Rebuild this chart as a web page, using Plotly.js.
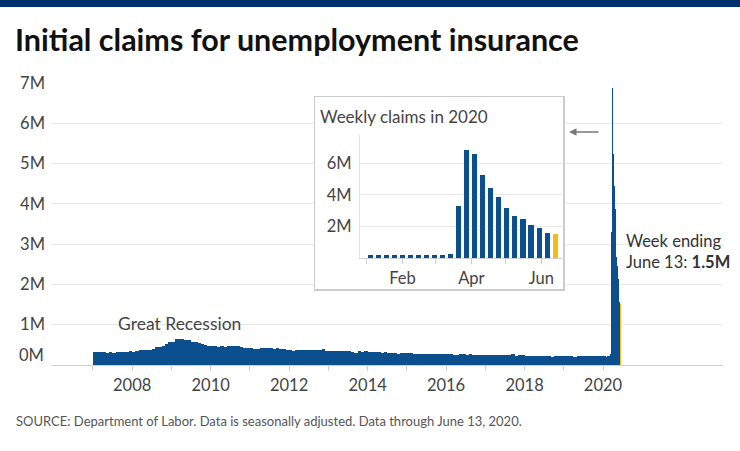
<!DOCTYPE html>
<html>
<head>
<meta charset="utf-8">
<script src="https://cdn.plot.ly/plotly-3.0.1.min.js"></script>
<style>html,body{margin:0;padding:0;background:#fff;}#chart{width:740px;height:451px;}</style>
</head>
<body>
<div id="chart"></div>
<script>
// Monthly average initial claims, thousands, Jan 2007 .. Dec 2019
const firstYear = 2007;
const monthlyClaimsK = [
  315,330,318,325,310,312,305,318,315,325,335,343, // 2007
  330,352,365,365,370,384,400,440,455,478,520,560, // 2008
  580,640,655,640,625,610,570,565,545,520,490,470, // 2009
  465,470,455,460,455,460,460,480,460,450,430,420, // 2010
  420,400,390,420,425,420,410,405,410,400,395,375, // 2011
  370,360,365,380,375,380,370,370,370,365,405,360, // 2012
  355,350,345,345,350,345,340,325,310,350,335,345, // 2013
  330,335,320,315,310,315,300,300,290,285,290,290, // 2014
  300,295,285,280,275,275,270,275,270,262,270,275, // 2015
  280,268,260,255,268,265,258,262,255,255,250,260, // 2016
  245,242,245,245,238,243,245,238,265,235,240,240, // 2017
  230,225,225,228,222,222,215,213,208,213,222,220, // 2018
  220,228,218,210,215,220,213,215,212,215,222,225  // 2019
];
// Weekly claims 2020 (week ending), millions
const weeks2020 = ['2020-01-04','2020-01-11','2020-01-18','2020-01-25','2020-02-01','2020-02-08',
  '2020-02-15','2020-02-22','2020-02-29','2020-03-07','2020-03-14','2020-03-21','2020-03-28',
  '2020-04-04','2020-04-11','2020-04-18','2020-04-25','2020-05-02','2020-05-09','2020-05-16',
  '2020-05-23','2020-05-30','2020-06-06','2020-06-13'];
const claims2020M = [0.214,0.207,0.220,0.216,0.202,0.205,0.214,0.219,0.217,0.211,0.282,3.307,6.867,
  6.615,5.237,4.442,3.867,3.176,2.687,2.446,2.123,1.897,1.566,1.508];
const mainTickYears = ['2007','2008','2009','2010','2011','2012','2013','2014','2015','2016','2017','2018','2019','2020'];
const mainYTicks = [1,2,3,4,5,6,7];
const insetYTicks = [2,4,6];
const insetMonths = ['2020-01-01','2020-02-01','2020-03-01','2020-04-01','2020-05-01','2020-06-01'];
const insetMonthLabels = ['', 'Feb', '', 'Apr', '', 'Jun'];

const BLUE = '#0b4f8e', GOLD = '#fdb913';
const DAY = 86400000;

const monthX = monthlyClaimsK.map((v, i) => {
  const y = firstYear + Math.floor(i / 12), m = (i % 12) + 1;
  return y + '-' + String(m).padStart(2, '0') + '-16';
});
const monthY = monthlyClaimsK.map(v => v * 1000);
const weekY = claims2020M.map(v => v * 1e6);
const weekColors = weeks2020.map((d, i) => i === weeks2020.length - 1 ? GOLD : BLUE);

const traces = [
  {type: 'bar', x: monthX, y: monthY, width: 31 * DAY, marker: {color: BLUE, line: {width: 0}},
   xaxis: 'x', yaxis: 'y', hoverinfo: 'skip'},
  {type: 'bar', x: weeks2020, y: weekY, width: 7 * DAY, marker: {color: weekColors, line: {width: 0}},
   xaxis: 'x', yaxis: 'y', hoverinfo: 'skip'},
  {type: 'scatter', x: [], y: [], xaxis: 'x2', yaxis: 'y2', hoverinfo: 'skip'},
  {type: 'bar', x: weeks2020, y: weekY, width: 4.4 * DAY, marker: {color: weekColors, line: {width: 0}},
   xaxis: 'x3', yaxis: 'y3', hoverinfo: 'skip'}
];

const L = 52, T = 83, W = 671, H = 282;
const px = x => (x - L) / W;
const py = y => (T + H - y) / H;

const axFont = {family: 'Lato, sans-serif', size: 16.5, color: '#444'};

const layout = {
  width: 740, height: 451,
  margin: {l: L, r: 740 - L - W, t: T, b: 451 - T - H},
  paper_bgcolor: '#fff', plot_bgcolor: '#fff',
  font: {family: 'Lato, sans-serif', color: '#444'},
  showlegend: false, barmode: 'overlay', bargap: 0,
  title: {text: 'Initial claims for unemployment insurance', xref: 'container', yref: 'container',
    x: 15 / 740, xanchor: 'left', y: 1 - 40 / 451, yanchor: 'middle',
    font: {family: 'Lato, sans-serif', size: 30.5, weight: 700, color: '#111'}},
  xaxis: {type: 'date', range: ['2005-12-16', '2023-01-22'], tickvals: mainTickYears.map(y => y + '-01-01'),
    ticktext: mainTickYears.map((y, i) => (+y % 2 === 0 ? y : '')),
    ticks: 'outside', ticklen: 5, tickcolor: '#d0d0d0', showline: true, linecolor: '#cfcfcf', linewidth: 1,
    showgrid: false, zeroline: false, tickfont: axFont, fixedrange: true},
  yaxis: {range: [0, 7e6], tickvals: mainYTicks.map(v => v * 1e6), ticktext: mainYTicks.map(v => v + 'M'),
    showgrid: true, gridcolor: '#e9e9e9', gridwidth: 1, zeroline: false, showline: false, ticks: '',
    ticklabelstandoff: 6, tickfont: axFont, fixedrange: true},
  xaxis2: {domain: [px(315), px(563)], anchor: 'y2', range: [0, 1], showline: true, mirror: true,
    linecolor: '#cccccc', linewidth: 1.5, showgrid: false, zeroline: false, showticklabels: false, ticks: ''},
  yaxis2: {domain: [py(289), py(97)], anchor: 'x2', range: [0, 1], showline: true, mirror: true,
    linecolor: '#cccccc', linewidth: 1.5, showgrid: false, zeroline: false, showticklabels: false, ticks: ''},
  xaxis3: {domain: [px(360), px(562)], anchor: 'y3', type: 'date', range: ['2019-12-26', '2020-06-19'],
    tickvals: insetMonths, ticktext: insetMonthLabels, ticks: 'outside', ticklen: 5, tickcolor: '#d0d0d0',
    showline: true, linecolor: '#d0d0d0', linewidth: 1, showgrid: false, zeroline: false,
    tickfont: axFont, fixedrange: true},
  yaxis3: {domain: [py(258), py(135)], anchor: 'x3', range: [0, 7.8e6],
    tickvals: insetYTicks.map(v => v * 1e6), ticktext: insetYTicks.map(v => v + 'M'),
    showgrid: true, gridcolor: '#e9e9e9', zeroline: false, showline: true, linecolor: '#e3e3e3', ticks: '',
    ticklabelstandoff: 4, tickfont: axFont, fixedrange: true},
  shapes: [
    {type: 'rect', xref: 'paper', yref: 'paper', x0: -0.1, x1: 1.1, y0: py(7), y1: py(-2),
     fillcolor: '#00306e', line: {width: 0}, layer: 'above'}
  ],
  annotations: [
    {xref: 'paper', yref: 'paper', x: px(46), y: py(355), xanchor: 'right', yanchor: 'middle',
     text: '0M', showarrow: false, font: axFont},
    {xref: 'paper', yref: 'paper', x: px(116), y: py(323), xanchor: 'left', yanchor: 'middle',
     text: 'Great Recession', showarrow: false, font: {family: 'Lato, sans-serif', size: 17.5, color: '#444'}},
    {xref: 'paper', yref: 'paper', x: px(624), y: py(251), xanchor: 'left', yanchor: 'middle', align: 'left',
     text: 'Week ending<br>June 13: <b>1.5M</b>', showarrow: false,
     font: {family: 'Lato, sans-serif', size: 16.5, color: '#333'}},
    {xref: 'paper', yref: 'paper', x: px(318), y: py(116), xanchor: 'left', yanchor: 'middle',
     text: 'Weekly claims in 2020', showarrow: false, font: {family: 'Lato, sans-serif', size: 17, color: '#444'}},
    {xref: 'paper', yref: 'paper', x: px(569), y: py(132), text: '', showarrow: true,
     ax: 31, ay: 0, arrowhead: 2, arrowsize: 1, arrowwidth: 1.5, arrowcolor: '#777'},
    {xref: 'paper', yref: 'paper', x: px(14), y: py(421), xanchor: 'left', yanchor: 'middle',
     text: 'SOURCE: Department of Labor. Data is seasonally adjusted. Data through June 13, 2020.',
     showarrow: false, font: {family: 'Lato, sans-serif', size: 13, color: '#555'}}
  ]
};

Plotly.newPlot('chart', traces, layout, {displayModeBar: false, staticPlot: true});
</script>
</body>
</html>
